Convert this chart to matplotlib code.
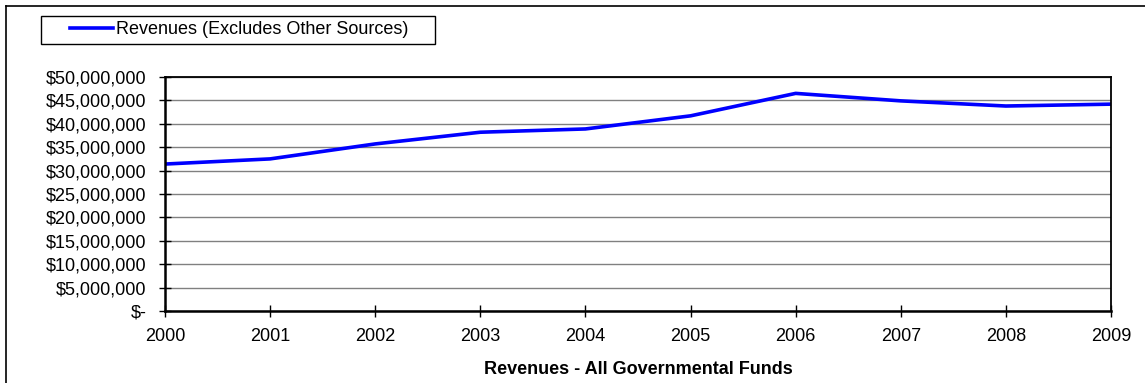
import matplotlib.pyplot as plt
from matplotlib.lines import Line2D
from matplotlib.patches import Rectangle
from matplotlib.ticker import FuncFormatter

plt.rcParams['font.family'] = ['Liberation Sans', 'DejaVu Sans']

years = [2000, 2001, 2002, 2003, 2004, 2005, 2006, 2007, 2008, 2009]
revenues = [31.4e6, 32.5e6, 35.7e6, 38.2e6, 38.9e6, 41.7e6, 46.5e6, 44.9e6, 43.8e6, 44.2e6]
y_ticks = list(range(0, 50000001, 5000000))

W, H = 1145, 383
fig = plt.figure(figsize=(W / 100, H / 100), dpi=100)
ax = fig.add_axes([165 / W, 1 - 311 / H, (1111 - 165) / W, (311 - 77) / H])

ax.plot(years, revenues, color='#0000FF', linewidth=2.6,
        label='Revenues (Excludes Other Sources)')

ax.set_xlim(2000, 2009)
ax.set_ylim(0, 50000000)
ax.set_xticks(years)
ax.set_yticks(y_ticks)


def money(v, pos):
    if v == 0:
        return '$-'
    return '${:,.0f}'.format(v)


ax.yaxis.set_major_formatter(FuncFormatter(money))
ax.grid(axis='y', color='#808080', linewidth=1.0)
ax.set_axisbelow(True)
ax.tick_params(direction='inout', length=8, width=1, labelsize=13)
ax.tick_params(axis='y', pad=9.5)
ax.tick_params(axis='x', pad=8)

for side in ['left', 'bottom']:
    ax.spines[side].set_linewidth(1.8)
for side in ['top', 'right']:
    ax.spines[side].set_linewidth(1.3)

ax.set_xlabel('Revenues - All Governmental Funds', fontsize=13, fontweight='bold', labelpad=12)

# legend box drawn separately so its padding matches the original
fig.add_artist(Rectangle((41 / W, 1 - 44 / H), (435 - 41) / W, 28 / H,
                         transform=fig.transFigure, facecolor='white',
                         edgecolor='black', linewidth=1.0))
leg = fig.legend(loc='center left', bbox_to_anchor=(70 / W, 1 - 30 / H),
                 fontsize=13, frameon=False, handlelength=2.38,
                 handletextpad=0.17, borderpad=0, borderaxespad=0)

# outer chart border (top and left visible)
fig.add_artist(Line2D([6 / W, 1], [1 - 6 / H, 1 - 6 / H], color='black', linewidth=1.2))
fig.add_artist(Line2D([6 / W, 6 / W], [0, 1 - 6 / H], color='black', linewidth=1.2))

fig.savefig('out.png', dpi=100)
